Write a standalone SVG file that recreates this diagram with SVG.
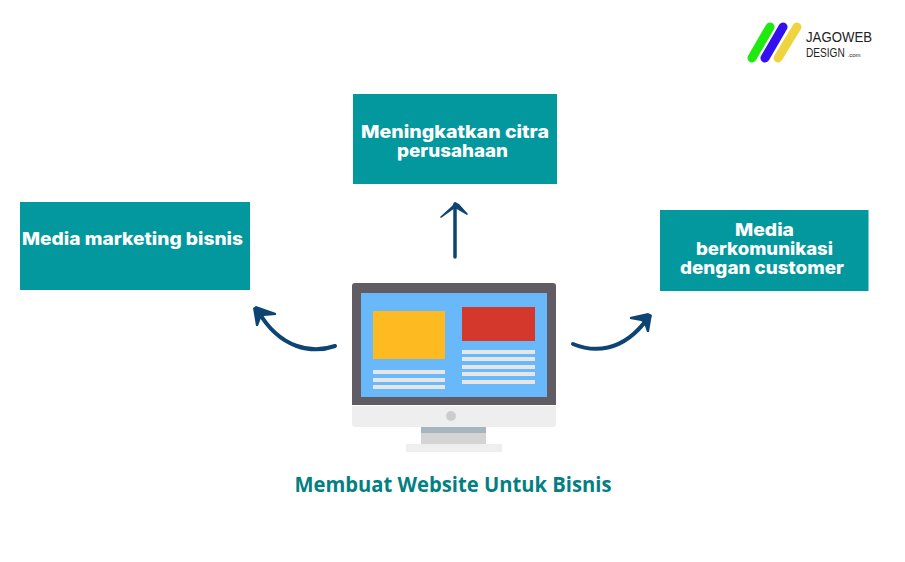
<svg xmlns="http://www.w3.org/2000/svg" width="905" height="562" viewBox="0 0 905 562">
<style>
.box{fill:#02989d}
.t{font-family:"Inter","Lato","Liberation Sans",sans-serif;font-weight:800;font-size:18px;fill:#fff;text-anchor:middle}
.title{font-family:"Open Sans","Liberation Sans",sans-serif;font-weight:700;font-size:21px;fill:#037f84;text-anchor:middle}
.logo{font-family:"Liberation Sans",sans-serif;fill:#222}
.a{fill:none;stroke:#0d4473;stroke-linecap:round;stroke-linejoin:round}
.h{fill:#0d4473}
.l{fill:#e6e6e6}
</style>
<rect width="905" height="562" fill="#fff"/>
<g id="connectors">
<path class="a" stroke-width="4" d="M335 346C312 354 280 349 258 311"/>
<path class="h" d="M253 308L256 306L276 313L276 315L264 316L261 318L258 326L256 326Z"/>
<path class="a" stroke-width="4" d="M573 344C592 352 622 354 648 318"/>
<path class="h" d="M652 315L651 320L649 332L647 332L644 323L641 321L630 319L630 317L648 313Z"/>
<path class="a" stroke-width="3.500" d="M455 257V204"/>
<path class="h" d="M455 202L459 204L468 214L467 215L455 208L441 218L440 217L452 206Z"/>
</g>
<g id="node-citra">
<rect class="box" x="353" y="94" width="204" height="90"/>
<text class="t" x="455" y="138" textLength="188" lengthAdjust="spacingAndGlyphs">Meningkatkan citra</text>
<text class="t" x="452.500" y="157" textLength="111" lengthAdjust="spacingAndGlyphs">perusahaan</text>
</g>
<g id="node-marketing">
<rect class="box" x="20" y="202" width="230" height="88"/>
<text class="t" x="132.500" y="245" textLength="221" lengthAdjust="spacingAndGlyphs">Media marketing bisnis</text>
</g>
<g id="node-customer">
<rect class="box" x="660" y="210" width="208.500" height="81"/>
<text class="t" x="764.500" y="236" textLength="59" lengthAdjust="spacingAndGlyphs">Media</text>
<text class="t" x="764.500" y="255" textLength="137" lengthAdjust="spacingAndGlyphs">berkomunikasi</text>
<text class="t" x="762" y="274" textLength="164" lengthAdjust="spacingAndGlyphs">dengan customer</text>
</g>
<g id="node-monitor">
<path d="M352 405V286Q352 283 355 283H553Q556 283 556 286V405Z" fill="#615b63"/>
<rect x="361" y="293" width="186" height="104" fill="#69b8f9"/>
<rect x="373" y="311" width="72" height="48" fill="#fdba21"/>
<rect x="462" y="307" width="73" height="34" fill="#d4382c"/>
<rect class="l" x="373" y="370" width="72" height="4"/>
<rect class="l" x="373" y="378" width="72" height="4"/>
<rect class="l" x="373" y="385" width="72" height="4"/>
<rect class="l" x="462" y="350" width="73" height="4"/>
<rect class="l" x="462" y="357" width="73" height="4"/>
<rect class="l" x="462" y="365" width="73" height="4"/>
<rect class="l" x="462" y="372" width="73" height="4"/>
<rect class="l" x="462" y="380" width="73" height="4"/>
<path d="M352 406H556V424Q556 427 553 427H355Q352 427 352 424Z" fill="#eeeeee"/>
<circle cx="451" cy="416" r="5" fill="#cccccc"/>
<rect x="421" y="427" width="65" height="6" fill="#a6b6be"/>
<rect x="421" y="433" width="65" height="11" fill="#d4d4d4"/>
<rect x="406" y="444" width="96" height="8" fill="#eeeeee"/>
</g>
<g id="node-title">
<text class="title" x="453" y="491.500" textLength="317" lengthAdjust="spacingAndGlyphs">Membuat Website Untuk Bisnis</text>
</g>
<g id="logo">
<path d="M770 27L752 58" stroke="#1eea0f" stroke-width="9" stroke-linecap="round"/>
<path d="M783 27L765 58" stroke="#3311ee" stroke-width="9" stroke-linecap="round"/>
<path d="M797 27L778 58" stroke="#eed540" stroke-width="9" stroke-linecap="round"/>
<text class="logo" x="806" y="42" font-size="15" textLength="66" lengthAdjust="spacingAndGlyphs">JAGOWEB</text>
<text class="logo" font-size="12.500" transform="translate(806 57) scale(.81 1)">DESIGN</text>
<text class="logo" font-size="5" transform="translate(847.500 57) scale(1.200 1)">.com</text>
</g>
</svg>
